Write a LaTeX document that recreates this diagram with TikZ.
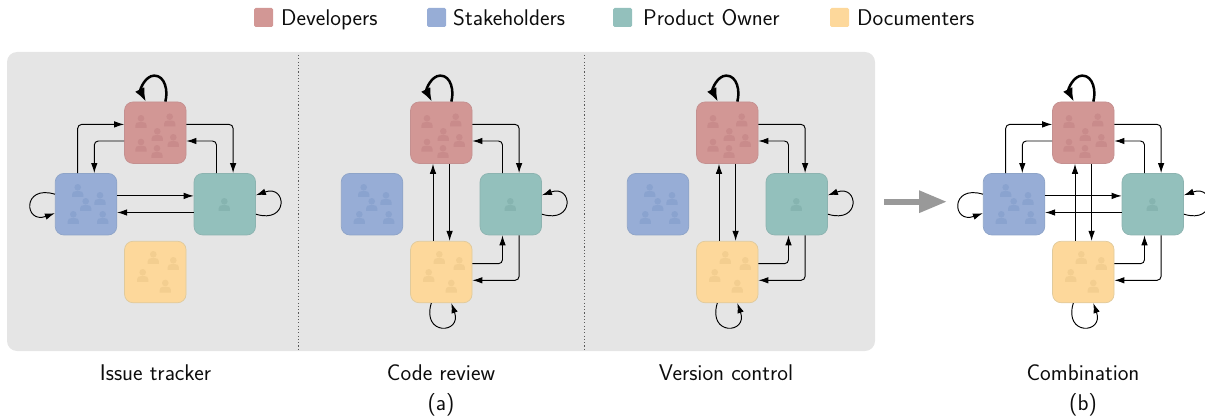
\documentclass[tikz,border=0pt]{standalone}
\usepackage{fontspec}
\setsansfont{Latin Modern Sans}
\usetikzlibrary{arrows.meta}
\definecolor{redf}{HTML}{D29795}\definecolor{redd}{HTML}{C49090}\definecolor{redp}{HTML}{C98B8B}
\definecolor{bluef}{HTML}{97ADD6}\definecolor{blued}{HTML}{8EA4C8}\definecolor{bluep}{HTML}{8AA3CF}
\definecolor{tealf}{HTML}{93C0BC}\definecolor{teald}{HTML}{8CB3B0}\definecolor{tealp}{HTML}{86B4B0}
\definecolor{yelf}{HTML}{FDD89B}\definecolor{yeld}{HTML}{E0CA9C}\definecolor{yelp}{HTML}{F3CE90}
\definecolor{panelbg}{HTML}{E5E5E5}
\tikzset{
  x=1pt,y=-1pt,
  box/.style={rounded corners=8.5pt,minimum size=61.5pt,inner sep=0pt,line width=0.7pt},
  link/.style={line width=0.95pt,rounded corners=4pt,-{Latex[length=10pt,width=6.5pt]},black},
  loopthin/.style={line width=0.95pt,-{Latex[length=10pt,width=6.5pt]},black},
  loopthick/.style={line width=2.5pt,-{Latex[length=13.5pt,width=10.5pt]},black},
  lab/.style={font=\sffamily\fontsize{22.7}{25}\selectfont,anchor=base,text=black!95,inner sep=0pt},
  key/.style={rounded corners=1.5pt,minimum size=19pt,inner sep=0pt},
}
\newcommand{\person}[3]{%
  \fill[#3] (#1,#2) circle[radius=3.3pt];
  \fill[#3] (#1-5.6,#2+9.6) -- (#1-5.6,#2+7) .. controls (#1-5.6,#2+4.6) and (#1-4,#2+3.9) .. (#1-2,#2+3.9) -- (#1+2,#2+3.9) .. controls (#1+4,#2+3.9) and (#1+5.6,#2+4.6) .. (#1+5.6,#2+7) -- (#1+5.6,#2+9.6) -- cycle;}
\newcommand{\boxes}[1]{%
  \node[box,fill=redf,draw=redd] (r#1) at (155.3,132.7) {};
  \node[box,fill=bluef,draw=blued] (b#1) at (86,204.2) {};
  \node[box,fill=tealf,draw=teald] (t#1) at (224.8,204.2) {};
  \node[box,fill=yelf,draw=yeld] (y#1) at (155.3,272) {};
  \foreach \a/\c in {141/118.3,169.7/116.7,157.3/131.3,141/142,173.3/137.3,157/148.3} {\person{\a}{\c}{redp}}
  \foreach \a/\c in {77.7/187.3,100/195.3,85.7/201.3,73.3/214.3,102.7/214.3} {\person{\a}{\c}{bluep}}
  \person{224.3}{201.3}{tealp}
  \foreach \a/\c in {153.3/254.3,173.3/260.3,142.7/272.3,165.3/283} {\person{\a}{\c}{yelp}}
}
% edges
\newcommand{\edgeRT}[1]{%
  \draw[link] ([yshift=8.3pt]r#1.east) -| ([xshift=8.3pt]t#1.north);
  \draw[link] ([xshift=-8.3pt]t#1.north) |- ([yshift=-8.3pt]r#1.east);}
\newcommand{\edgeRB}[1]{%
  \draw[link] ([xshift=-8.3pt]b#1.north) |- ([yshift=8.3pt]r#1.west);
  \draw[link] ([yshift=-8.3pt]r#1.west) -| ([xshift=8.3pt]b#1.north);}
\newcommand{\edgeBT}[1]{%
  \draw[link] ([yshift=8.3pt]b#1.east) -- ([yshift=8.3pt]t#1.west);
  \draw[link] ([yshift=-8.3pt]t#1.west) -- ([yshift=-8.3pt]b#1.east);}
\newcommand{\edgeRY}[1]{%
  \draw[link] ([xshift=-8.3pt]y#1.north) -- ([xshift=-8.3pt]r#1.south);
  \draw[link] ([xshift=8.3pt]r#1.south) -- ([xshift=8.3pt]y#1.north);}
\newcommand{\edgeYT}[1]{%
  \draw[link] ([yshift=8.3pt]y#1.east) -| ([xshift=-8.3pt]t#1.south);
  \draw[link] ([xshift=8.3pt]t#1.south) |- ([yshift=-8.3pt]y#1.east);}
\newcommand{\loopR}[1]{\draw[loopthick] ([xshift=10pt]r#1.north) .. controls +(3,-10) and +(11,0) .. ++(-11,-26) .. controls +(-9,0) and +(-6,-12) .. ([xshift=-9.5pt]r#1.north);}
\newcommand{\loopB}[1]{\draw[loopthin] ([yshift=10pt]b#1.west) .. controls +(-33,-10) and +(-31,11) .. ([yshift=-9pt]b#1.west);}
\newcommand{\loopT}[1]{\draw[loopthin] ([yshift=-10pt]t#1.east) .. controls +(33,10) and +(31,-11) .. ([yshift=9pt]t#1.east);}
\newcommand{\loopY}[1]{\draw[loopthin] ([xshift=-10pt]y#1.south) .. controls +(-10,33) and +(11,31) .. ([xshift=10pt]y#1.south);}
\begin{document}
\begin{tikzpicture}
\useasboundingbox (0,0) rectangle (1205,420);
\clip (0,0) rectangle (1205,420);
% legend
\node[key,fill=redf] (k1) at (263.5,17.5) {};
\node[key,fill=bluef] (k2) at (436.5,17.5) {};
\node[key,fill=tealf] (k3) at (622.5,17.5) {};
\node[key,fill=yelf] (k4) at (839.5,17.5) {};
\node[lab,anchor=base west] (l1) at (281,25.2) {Developers};
\node[lab,anchor=base west] (l2) at (453,25.2) {Stakeholders};
\node[lab,anchor=base west] (l3) at (643,25.2) {Product Owner};
\node[lab,anchor=base west] (l4) at (857,25.2) {Documenters};
% panel
\fill[panelbg,rounded corners=10pt] (7,52) rectangle (875,351);
\coordinate (d1a) at (298,55); \coordinate (d1b) at (298,349);
\coordinate (d2a) at (584,55); \coordinate (d2b) at (584,349);
\draw[black!65,line width=0.9pt,dash pattern=on 1.1pt off 2.2pt] (d1a) -- (d1b);
\draw[black!65,line width=0.9pt,dash pattern=on 1.1pt off 2.2pt] (d2a) -- (d2b);
% issue tracker
\begin{scope}
\boxes{A}\edgeRT{A}\edgeRB{A}\edgeBT{A}\loopR{A}\loopB{A}\loopT{A}
\end{scope}
\begin{scope}[xshift=286pt]
\boxes{B}\edgeRT{B}\edgeRY{B}\edgeYT{B}\loopR{B}\loopT{B}\loopY{B}
\end{scope}
\begin{scope}[xshift=572pt]
\boxes{C}\edgeRT{C}\edgeRY{C}\edgeYT{C}\loopR{C}\loopT{C}\loopY{C}
\end{scope}
\begin{scope}[xshift=928pt]
\boxes{D}\edgeRT{D}\edgeRB{D}\edgeBT{D}\edgeRY{D}\edgeYT{D}\loopR{D}\loopB{D}\loopT{D}\loopY{D}
\end{scope}
% grey arrow
\coordinate (ga) at (884,201.7); \coordinate (gb) at (947,201.7);
\draw[line width=6pt,black!40,-{Triangle[length=28pt,width=21pt]}] (ga) -- (gb);
% captions
\node[lab] (c1) at (155.5,380.5) {Issue tracker};
\node[lab] (c2) at (441,380.5) {Code review};
\node[lab] (c3) at (726,380.5) {Version control};
\node[lab] (c4) at (1083,380.5) {Combination};
\node[lab] (c5) at (441,410.5) {(a)};
\node[lab] (c6) at (1083,410.5) {(b)};
\end{tikzpicture}
\end{document}
